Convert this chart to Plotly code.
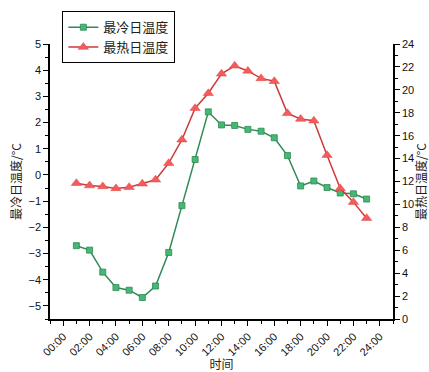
import plotly.graph_objects as go

# Hourly readings, 01:00 .. 23:00
hours = list(range(1, 24))
coldest_day = [-2.70, -2.87, -3.71, -4.30, -4.40, -4.68, -4.24, -2.96, -1.17, 0.59,
               2.41, 1.91, 1.89, 1.74, 1.67, 1.42, 0.74, -0.42, -0.23, -0.48,
               -0.69, -0.72, -0.92]
hottest_day = [11.85, 11.65, 11.57, 11.40, 11.50, 11.80, 12.15, 13.60, 15.65, 18.40,
               19.70, 21.40, 22.10, 21.65, 21.00, 20.75, 17.95, 17.45, 17.30, 14.30,
               11.40, 10.20, 8.80]

tick_hours = list(range(0, 25, 2))
tick_labels = [f"{h:02d}:00" for h in tick_hours]

cold_name = "最冷日温度"
hot_name = "最热日温度"
left_title = "最冷日温度/°C"
right_title = "最热日温度/°C"
x_title = "时间"

CJK = "Noto Sans CJK SC"
NUM = "Liberation Sans, Arial, sans-serif"

fig = go.Figure()
fig.add_trace(go.Scatter(
    x=hours, y=coldest_day, name=cold_name, mode="lines+markers",
    line=dict(color="#2f8a55", width=1.5),
    marker=dict(symbol="square", size=6, color="#45b873",
                line=dict(color="#2f8a55", width=0.8)),
    yaxis="y",
))
fig.add_trace(go.Scatter(
    x=hours, y=hottest_day, name=hot_name, mode="lines+markers",
    line=dict(color="#cf3a3a", width=1.5),
    marker=dict(symbol="triangle-up", size=9, color="#f25c5c",
                line=dict(color="#e04545", width=0.5)),
    yaxis="y2",
))

axis_common = dict(
    showline=True, linecolor="black", linewidth=1.5, mirror=False,
    ticks="outside", ticklen=5, tickwidth=1.2, tickcolor="black",
    showgrid=False, zeroline=False, automargin=False,
    tickfont=dict(family=NUM, size=11, color="#111"),
)

fig.update_layout(
    width=429, height=372,
    margin=dict(l=50, r=36, t=43, b=53),
    paper_bgcolor="white", plot_bgcolor="white",
    showlegend=True,
    legend=dict(
        x=0.036, y=1.115, xanchor="left", yanchor="top",
        bordercolor="black", borderwidth=1, bgcolor="white",
        font=dict(family=CJK, size=13, color="#222"),
        itemwidth=30, tracegroupgap=0,
    ),
    xaxis=dict(
        **axis_common,
        range=[-1, 25], tickmode="array", tickvals=tick_hours, ticktext=tick_labels,
        tickangle=-45,
        minor=dict(tick0=0, dtick=1, ticks="outside", ticklen=3, tickcolor="black"),
        title=dict(text=x_title, font=dict(family=CJK, size=12, color="#222"),
                   standoff=0),
    ),
    yaxis=dict(
        **axis_common,
        range=[-5.5, 5], dtick=1, tick0=0,
        minor=dict(dtick=0.5, ticks="outside", ticklen=3, tickcolor="black"),
        title=dict(text=left_title, font=dict(family=CJK, size=12, color="#222"),
                   standoff=4),
    ),
    yaxis2=dict(
        **axis_common,
        overlaying="y", side="right",
        range=[0, 24], dtick=2, tick0=0,
        minor=dict(dtick=1, ticks="outside", ticklen=3, tickcolor="black"),
        title=dict(text=right_title, font=dict(family=CJK, size=12, color="#222"),
                   standoff=2),
    ),
)

fig.write_html("out.html")
